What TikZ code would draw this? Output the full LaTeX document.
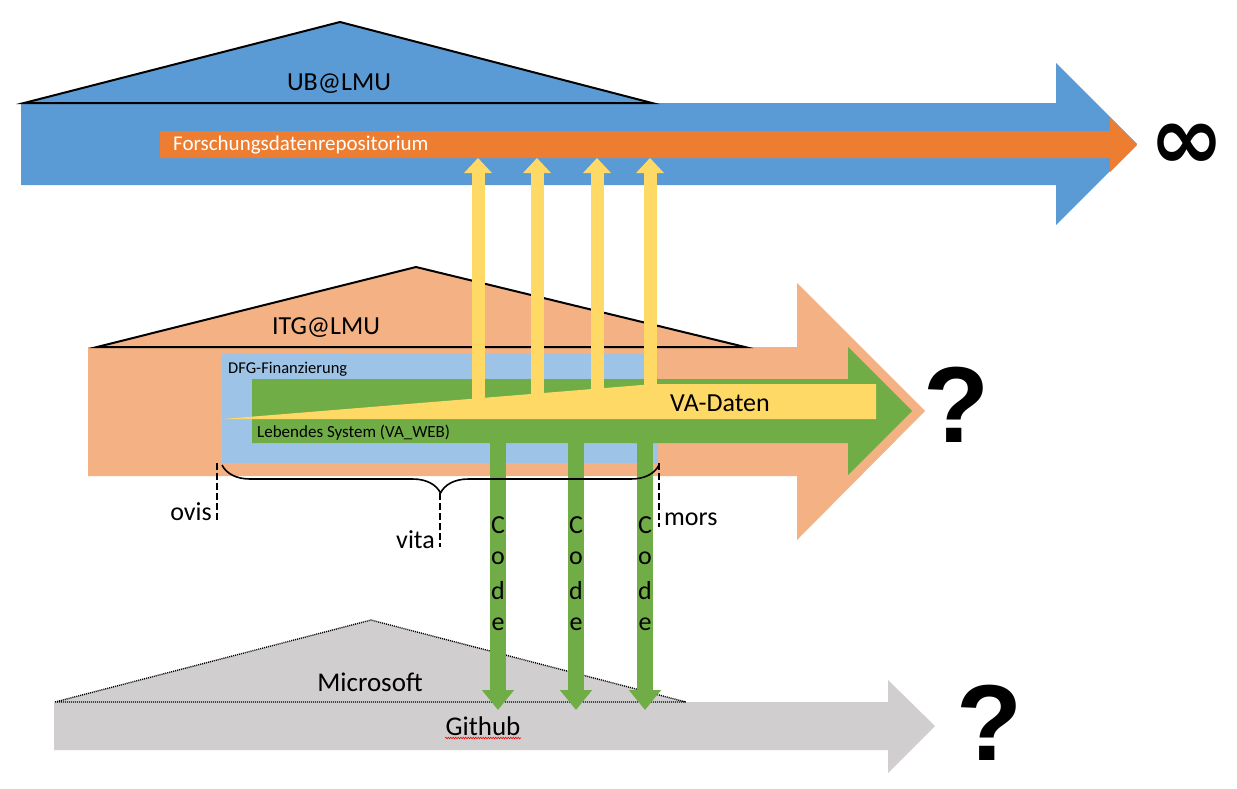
\documentclass[tikz,border=0pt]{standalone}
\usepackage{fontspec}
\setmainfont{Carlito}
\newfontfamily\symfont{DejaVu Sans}
\newfontfamily\qfont{Liberation Sans}
\usetikzlibrary{decorations.pathreplacing,decorations.pathmorphing,arrows.meta}
\definecolor{ubblue}{HTML}{5B9BD5}
\definecolor{repoorange}{HTML}{ED7D31}
\definecolor{itgsalmon}{HTML}{F4B183}
\definecolor{dfgblue}{HTML}{9DC3E6}
\definecolor{webgreen}{HTML}{70AD47}
\definecolor{vayellow}{HTML}{FFD966}
\definecolor{ghgrey}{HTML}{D0CECE}
\tikzset{
  fs/.style={font=\fontsize{#1}{#1}\selectfont},
  lbl/.style={inner sep=0pt, text=black},
  outline/.style={draw=black, line width=2pt, line join=miter},
  dotline/.style={draw=black, line width=1.4pt, dash pattern=on 1pt off 1pt},
  uparrow/.style={draw=vayellow, line width=13pt, -{Triangle[width=27pt,length=15pt]}},
  downarrow/.style={draw=webgreen, line width=16pt, -{Triangle[width=31pt,length=20pt]}},
  dashmark/.style={draw=black, line width=2.5pt, dash pattern=on 7pt off 3pt},
  codeletter/.style={lbl, fs=26},
}
\begin{document}
\begin{tikzpicture}[x=1pt,y=-1pt]
\useasboundingbox (0,0) rectangle (1237,788);
% ---------- UB@LMU ----------
\fill[ubblue] (21,103) -- (1056,103) -- (1056,63) -- (1137,144) -- (1056,225) -- (1056,185) -- (21,185) -- cycle;
\filldraw[fill=ubblue, outline] (24,103) -- (340,22) -- (652,103) -- cycle;
\fill[repoorange] (160,131) -- (1110,131) -- (1110,118) -- (1137,145) -- (1110,172) -- (1110,158) -- (160,158) -- cycle;
\node[lbl, fs=26] (ub) at (339,84) {UB@LMU};
\node[lbl, fs=21, text=white, anchor=west] (repo) at (173,145) {Forschungsdatenrepositorium};
\node[lbl, font=\symfont\bfseries\fontsize{90}{90}\selectfont] (inf) at (1187,147) {∞};
% ---------- ITG@LMU ----------
\fill[itgsalmon] (88,347) -- (797,347) -- (797,283) -- (925,411) -- (797,540) -- (797,476) -- (88,476) -- cycle;
\filldraw[fill=itgsalmon, outline] (97,347) -- (416,267) -- (745,347) -- cycle;
\fill[dfgblue] (222,354) rectangle (658,463);
\fill[webgreen] (252,379) -- (848,379) -- (848,347) -- (912,411) -- (848,475) -- (848,443) -- (252,443) -- cycle;
\fill[vayellow] (223,419) -- (654,384) -- (876,384) -- (876,419) -- cycle;
\node[lbl, fs=26] (itg) at (326,328) {ITG@LMU};
\node[lbl, fs=16.5, anchor=west] (dfg) at (228,369) {DFG-Finanzierung};
\node[lbl, fs=17, anchor=west] (web) at (257,433) {Lebendes System (VA\_WEB)};
\node[lbl, fs=26] (vadaten) at (720,403) {VA-Daten};
\node[lbl, font=\qfont\bfseries\fontsize{108}{108}\selectfont] (q1) at (956,405) {?};
% ---------- Microsoft / Github ----------
\fill[ghgrey] (54,702) -- (888,702) -- (888,680) -- (935,726) -- (888,773) -- (888,750) -- (54,750) -- cycle;
\filldraw[fill=ghgrey, dotline] (55,702) -- (371,620) -- (686,702) -- cycle;
\node[lbl, fs=27] (ms) at (370,682) {Microsoft};
\node[lbl, fs=27] (gh) at (483,726) {Github};
\draw[red, line width=0.6pt, decorate, decoration={snake, amplitude=0.8pt, segment length=2.5pt}] (445,738) -- (521,738);
\node[lbl, font=\qfont\bfseries\fontsize{108}{108}\selectfont] (q2) at (989,723) {?};
% ---------- data arrows (up) ----------
\foreach \i/\x in {1/478,2/537,3/597,4/650}{
  \coordinate (ys\i) at (\x,405);
  \coordinate (ye\i) at (\x,158);
  \draw[uparrow] (ys\i) -- (ye\i);
}
% ---------- code arrows (down) ----------
\foreach \i/\x in {1/498,2/576,3/645}{
  \coordinate (gs\i) at (\x,435);
  \coordinate (ge\i) at (\x,710);
  \draw[downarrow] (gs\i) -- (ge\i);
  \node[codeletter] (c\i) at (\x,525) {C};
  \node[codeletter] (o\i) at (\x,558) {o};
  \node[codeletter] (d\i) at (\x,591) {d};
  \node[codeletter] (e\i) at (\x,624) {e};
}
% ---------- lifetime brace ----------
\coordinate (bl) at (222,465);
\coordinate (br) at (659,465);
\draw[black, line width=1.6pt, decorate, decoration={brace, mirror, amplitude=28pt}] (bl) -- (br);
\coordinate (ovisTop) at (217,463);
\coordinate (ovisBot) at (217,521);
\coordinate (vitaTop) at (440,493);
\coordinate (vitaBot) at (440,547);
\coordinate (morsTop) at (659,463);
\coordinate (morsBot) at (659,527);
\draw[dashmark] (ovisTop) -- (ovisBot);
\draw[dashmark] (vitaTop) -- (vitaBot);
\draw[dashmark] (morsTop) -- (morsBot);
\node[lbl, fs=26, anchor=east] (ovis) at (212,512) {ovis};
\node[lbl, fs=26, anchor=east] (vita) at (435,540) {vita};
\node[lbl, fs=26, anchor=west] (mors) at (664,519) {mors};
\end{tikzpicture}
\end{document}
